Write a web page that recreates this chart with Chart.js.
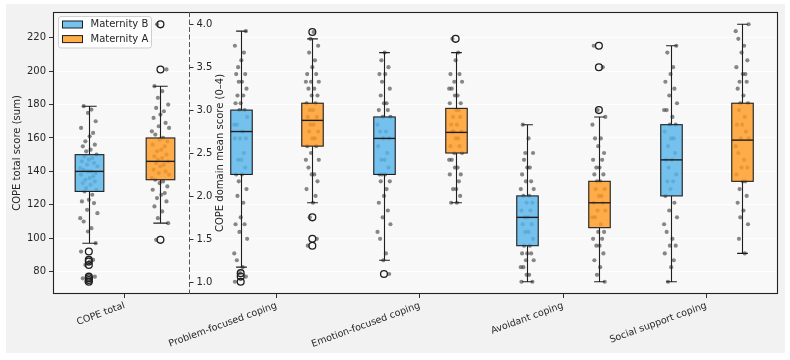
<!DOCTYPE html>
<html>
<head>
<meta charset="utf-8">
<script src="https://cdn.jsdelivr.net/npm/chart.js@4.4.1/dist/chart.umd.min.js"></script>
<style>
  html, body { margin: 0; padding: 0; background: #ffffff; }
  #wrap { position: relative; width: 790px; height: 360px; }
</style>
</head>
<body>
<div id="wrap"><canvas id="myChart" width="790" height="360"></canvas></div>
<script>
// ---- data ----
const groups = ['COPE total', 'Problem-focused coping', 'Emotion-focused coping', 'Avoidant coping', 'Social support coping'];
const seriesNames = ['Maternity B', 'Maternity A'];
const totalTicks = [80, 100, 120, 140, 160, 180, 200, 220];
const domainTicks = [1.0, 1.5, 2.0, 2.5, 3.0, 3.5, 4.0];

// [lower whisker, Q1, median, Q3, upper whisker]
const statsB = [
  [97, 128, 140, 150, 179],
  [1.17, 2.25, 2.75, 3.0, 3.92],
  [1.25, 2.25, 2.67, 2.92, 3.67],
  [1.0, 1.42, 1.75, 2.0, 2.83],
  [1.0, 2.0, 2.42, 2.83, 3.75]
];
const statsA = [
  [109, 135, 146, 160, 191],
  [1.92, 2.58, 2.88, 3.08, 3.83],
  [1.92, 2.5, 2.74, 3.02, 3.67],
  [1.0, 1.63, 1.92, 2.17, 2.92],
  [1.33, 2.17, 2.65, 3.08, 4.0]
];

const outliersB = [
  [92, 87, 86, 84, 77, 76, 75, 74],
  [1.1, 1.06, 1.0],
  [1.09],
  [],
  []
];
const outliersA = [
  [228, 201, 99],
  [3.91, 1.75, 1.5, 1.42],
  [3.83],
  [3.75, 3.5, 3.0],
  []
];

const pointsB = [
  [179, 177, 175, 170, 166, 163, 161, 158, 156, 155, 153, 152, 150, 149, 148, 147, 146, 145, 144, 143, 142, 141, 140, 140, 139, 138, 137, 136, 135, 134, 133, 132, 130, 129, 128, 126, 123, 122, 121, 117, 115, 112, 110, 106, 104, 97, 92, 87, 86, 84, 77, 76, 75, 74],
  [3.92, 3.75, 3.67, 3.58, 3.5, 3.42, 3.42, 3.33, 3.33, 3.25, 3.17, 3.17, 3.08, 3.08, 3.0, 3.0, 2.92, 2.83, 2.83, 2.75, 2.67, 2.67, 2.67, 2.5, 2.42, 2.42, 2.33, 2.25, 2.25, 2.17, 2.08, 2.0, 1.92, 1.75, 1.67, 1.67, 1.58, 1.5, 1.33, 1.25, 1.17, 1.1, 1.06, 1.0],
  [3.67, 3.58, 3.5, 3.42, 3.42, 3.33, 3.25, 3.17, 3.08, 3.08, 3.0, 3.0, 2.92, 2.92, 2.83, 2.75, 2.75, 2.67, 2.67, 2.58, 2.5, 2.42, 2.42, 2.33, 2.25, 2.25, 2.25, 2.17, 2.17, 2.08, 2.0, 1.92, 1.83, 1.75, 1.67, 1.58, 1.5, 1.33, 1.25, 1.09],
  [2.83, 2.67, 2.5, 2.5, 2.42, 2.33, 2.33, 2.25, 2.17, 2.17, 2.08, 2.08, 2.0, 2.0, 1.92, 1.92, 1.83, 1.83, 1.75, 1.75, 1.67, 1.67, 1.58, 1.58, 1.5, 1.42, 1.42, 1.33, 1.33, 1.33, 1.25, 1.25, 1.17, 1.17, 1.08, 1.08, 1.0, 1.0],
  [3.75, 3.67, 3.5, 3.42, 3.33, 3.25, 3.17, 3.08, 3.0, 3.0, 2.92, 2.83, 2.83, 2.75, 2.67, 2.67, 2.58, 2.5, 2.42, 2.42, 2.33, 2.25, 2.17, 2.17, 2.08, 2.0, 1.92, 1.83, 1.75, 1.67, 1.58, 1.5, 1.42, 1.42, 1.33, 1.25, 1.17, 1.0]
];
const pointsA = [
  [228, 201, 191, 188, 184, 180, 178, 176, 174, 172, 169, 167, 166, 164, 162, 160, 159, 158, 156, 155, 153, 152, 150, 149, 148, 147, 146, 145, 144, 143, 141, 140, 139, 138, 136, 135, 134, 133, 131, 129, 127, 126, 124, 122, 119, 116, 112, 109, 99],
  [3.91, 3.83, 3.75, 3.67, 3.58, 3.5, 3.42, 3.42, 3.33, 3.33, 3.33, 3.25, 3.25, 3.17, 3.17, 3.08, 3.08, 3.0, 3.0, 2.92, 2.92, 2.83, 2.83, 2.75, 2.75, 2.67, 2.67, 2.58, 2.58, 2.5, 2.42, 2.42, 2.33, 2.25, 2.25, 2.17, 2.08, 2.0, 1.92, 1.75, 1.5, 1.42],
  [3.83, 3.67, 3.58, 3.42, 3.42, 3.33, 3.33, 3.25, 3.25, 3.17, 3.17, 3.08, 3.08, 3.0, 3.0, 2.92, 2.92, 2.83, 2.83, 2.75, 2.75, 2.75, 2.67, 2.67, 2.58, 2.58, 2.5, 2.5, 2.42, 2.42, 2.33, 2.33, 2.25, 2.25, 2.17, 2.08, 2.08, 2.0, 1.92, 1.92],
  [3.75, 3.5, 3.0, 2.92, 2.83, 2.67, 2.67, 2.58, 2.5, 2.42, 2.42, 2.33, 2.33, 2.25, 2.25, 2.17, 2.17, 2.08, 2.08, 2.0, 2.0, 1.92, 1.92, 1.83, 1.83, 1.75, 1.75, 1.67, 1.58, 1.58, 1.5, 1.5, 1.42, 1.42, 1.33, 1.25, 1.17, 1.08, 1.0],
  [4.0, 3.92, 3.83, 3.75, 3.67, 3.58, 3.5, 3.42, 3.42, 3.33, 3.33, 3.25, 3.17, 3.08, 3.08, 3.0, 2.92, 2.83, 2.83, 2.75, 2.67, 2.67, 2.58, 2.5, 2.42, 2.33, 2.33, 2.25, 2.17, 2.17, 2.08, 2.0, 1.92, 1.83, 1.75, 1.67, 1.5, 1.33]
];

// ---- layout / style ----
const slotX = [-0.06, 1, 2, 3, 4];   // where each group sits on the x scale
const dividerX = 0.39;               // dashed line between the two panels
const sideShift = [-0.25, 0.25];     // Maternity B left, Maternity A right
const boxWidths = [0.2, 0.15];       // total panel, domain panel
const jitter = [-0.6, 0.3, -0.1, 0.8, -0.9, 0.5, 0.1, -0.4, 0.7, -0.7, 0.2, -0.3, 0.9, -0.5, 0.4, 0, -0.8, 0.6, -0.2, 1.0, -1.0];
const fills = ['rgba(86,180,233,0.82)', 'rgba(255,155,35,0.82)'];
const ink = '#1e1e1e';
const FONT = 'DejaVu Sans';

Chart.defaults.font.family = FONT;
Chart.defaults.color = '#262626';

function pointSets(all, s, radius, outline) {
  return all.map((vals, g) => {
    const spread = g === 0 ? 0.06 : 0.045;
    return {
      data: vals.map((v, i) => ({
        x: slotX[g] + sideShift[s] + (outline ? 0 : jitter[(i + 7 * s + 3 * g) % jitter.length] * spread),
        y: v
      })),
      yAxisID: g === 0 ? 'y' : 'y2',
      pointRadius: radius,
      pointBackgroundColor: outline ? 'rgba(0,0,0,0)' : 'rgba(40,40,40,0.55)',
      pointBorderColor: outline ? ink : 'rgba(0,0,0,0)',
      pointBorderWidth: outline ? 1.3 : 0
    };
  });
}

const datasets = [
  ...pointSets(pointsB, 0, 2.1, false),
  ...pointSets(pointsA, 1, 2.1, false),
  ...pointSets(outliersB, 0, 3.4, true),
  ...pointSets(outliersA, 1, 3.4, true)
];

const boxPlot = {
  id: 'boxPlot',
  beforeDraw(chart) {
    const {ctx, chartArea: a} = chart;
    ctx.save();
    ctx.fillStyle = '#f2f2f2';
    ctx.fillRect(6, 4, 779, 349);
    ctx.fillStyle = '#f8f8f8';
    ctx.fillRect(a.left, a.top, a.right - a.left, a.bottom - a.top);
    ctx.restore();
  },
  afterDatasetsDraw(chart) {
    const {ctx, scales: {x, y, y2}} = chart;
    ctx.save();
    [statsB, statsA].forEach((stats, s) => {
      stats.forEach((st, g) => {
        const ys = g === 0 ? y : y2;
        const cx = Math.round(x.getPixelForValue(slotX[g] + sideShift[s])) + 0.5;
        const w = x.getPixelForValue(boxWidths[g === 0 ? 0 : 1]) - x.getPixelForValue(0);
        const [lo, q1, med, q3, hi] = st.map(v => ys.getPixelForValue(v));
        ctx.strokeStyle = ink;
        ctx.lineWidth = 1.1;
        ctx.beginPath();
        ctx.moveTo(cx, q1); ctx.lineTo(cx, lo);
        ctx.moveTo(cx, q3); ctx.lineTo(cx, hi);
        ctx.moveTo(cx - w / 4, lo); ctx.lineTo(cx + w / 4, lo);
        ctx.moveTo(cx - w / 4, hi); ctx.lineTo(cx + w / 4, hi);
        ctx.stroke();
        ctx.fillStyle = fills[s];
        ctx.fillRect(cx - w / 2, q3, w, q1 - q3);
        ctx.strokeRect(cx - w / 2, q3, w, q1 - q3);
        ctx.lineWidth = 1.4;
        ctx.beginPath();
        ctx.moveTo(cx - w / 2, med); ctx.lineTo(cx + w / 2, med);
        ctx.stroke();
      });
    });
    ctx.restore();
  },
  afterDraw(chart) {
    const {ctx, chartArea: a, scales: {x, y2}} = chart;
    ctx.save();
    // frame
    ctx.strokeStyle = '#222';
    ctx.lineWidth = 1.1;
    ctx.strokeRect(Math.round(a.left) + 0.5, Math.round(a.top) + 0.5, Math.round(a.right - a.left) - 1, Math.round(a.bottom - a.top) - 1);
    ctx.lineWidth = 1;
    // panel divider
    const dx = Math.round(x.getPixelForValue(dividerX)) + 0.5;
    ctx.strokeStyle = '#555';
    ctx.setLineDash([5, 2.5]);
    ctx.beginPath();
    ctx.moveTo(dx, a.top); ctx.lineTo(dx, a.bottom);
    ctx.stroke();
    ctx.setLineDash([]);
    // domain score axis on the divider
    ctx.strokeStyle = '#333';
    ctx.fillStyle = '#262626';
    ctx.font = '10px "' + FONT + '"';
    ctx.textAlign = 'left';
    ctx.textBaseline = 'middle';
    domainTicks.forEach(v => {
      const py = Math.round(y2.getPixelForValue(v)) + 0.5;
      ctx.beginPath();
      ctx.moveTo(dx, py); ctx.lineTo(dx + 4, py);
      ctx.stroke();
      ctx.fillText(v.toFixed(1), dx + 7, py);
    });
    ctx.save();
    ctx.translate(dx + 31, (a.top + a.bottom) / 2);
    ctx.rotate(-Math.PI / 2);
    ctx.textAlign = 'center';
    ctx.fillText('COPE domain mean score (0\u20134)', 0, 0);
    ctx.restore();
    // legend
    const lx = 58.5, ly = 16.5;
    ctx.fillStyle = 'rgba(255,255,255,0.85)';
    ctx.strokeStyle = '#cfcfcf';
    ctx.beginPath();
    ctx.roundRect(lx, ly, 93, 31.5, 2.5);
    ctx.fill();
    ctx.stroke();
    seriesNames.forEach((name, s) => {
      const ry = ly + 4.5 + s * 14.6;
      ctx.fillStyle = fills[s];
      ctx.fillRect(lx + 4, ry, 20, 7);
      ctx.strokeStyle = ink;
      ctx.strokeRect(lx + 4, ry, 20, 7);
      ctx.fillStyle = '#262626';
      ctx.textAlign = 'left';
      ctx.fillText(name, lx + 32, ry + 3.8);
    });
    ctx.restore();
  }
};

new Chart(document.getElementById('myChart'), {
  type: 'scatter',
  data: { datasets },
  options: {
    responsive: false,
    animation: false,
    devicePixelRatio: 1,
    events: [],
    layout: { padding: { top: 12, right: 12, left: 0, bottom: 0 } },
    plugins: { legend: { display: false }, tooltip: { enabled: false } },
    scales: {
      x: {
        type: 'linear',
        min: -0.56,
        max: 4.5,
        afterBuildTicks: scale => { scale.ticks = slotX.map(v => ({ value: v })); },
        afterFit: scale => { scale.height = 66; },
        ticks: {
          autoSkip: false,
          minRotation: 20,
          maxRotation: 20,
          padding: 2,
          font: { size: 9.5 },
          callback: (value, index) => groups[index]
        },
        grid: { drawOnChartArea: false, drawTicks: true, tickLength: 4, tickColor: '#333' },
        border: { display: false }
      },
      y: {
        position: 'left',
        min: 66.6,
        max: 235.4,
        afterBuildTicks: scale => { scale.ticks = totalTicks.map(v => ({ value: v })); },
        afterFit: scale => { scale.width = 53; },
        ticks: { padding: 3, font: { size: 10 } },
        grid: { color: '#ffffff', lineWidth: 1, tickLength: 4, tickColor: '#333' },
        border: { display: false },
        title: {
          display: true,
          text: 'COPE total score (sum)',
          font: { size: 10 },
          padding: { top: 11, bottom: 0 }
        }
      },
      y2: {
        display: false,
        position: 'right',
        min: 0.857,
        max: 4.143
      }
    }
  },
  plugins: [boxPlot]
});
</script>
</body>
</html>
